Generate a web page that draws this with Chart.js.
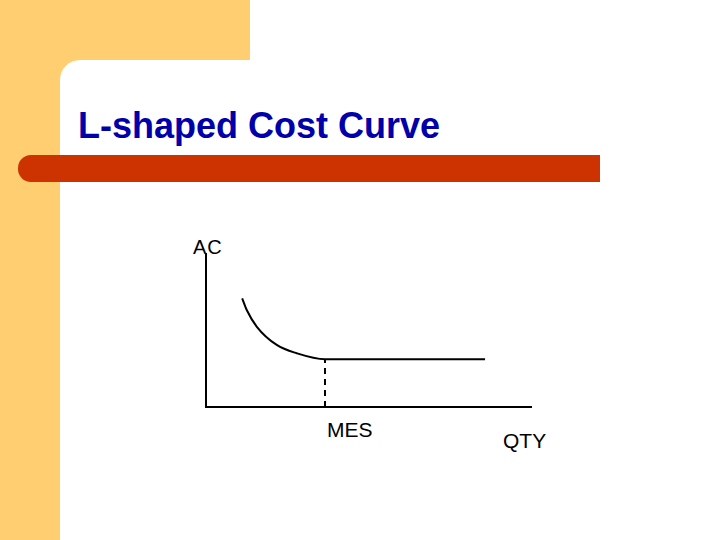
<!DOCTYPE html>
<html>
<head>
<meta charset="utf-8">
<script src="https://cdn.jsdelivr.net/npm/chart.js@4/dist/chart.umd.min.js"></script>
<style>
  html, body { margin: 0; padding: 0; }
  body { width: 720px; height: 540px; position: relative; overflow: hidden; background: #fff;
         font-family: "Liberation Sans", Arial, sans-serif; }
  .bg-strip { position: absolute; left: 0; top: 0; width: 60px; height: 540px; background: #FFCE70; }
  .bg-block { position: absolute; left: 0; top: 0; width: 250px; height: 60px; background: #FFCE70; }
  .corner-bg { position: absolute; left: 60px; top: 60px; width: 22px; height: 22px; background: #FFCE70; }
  .corner { position: absolute; left: 60px; top: 60px; width: 40px; height: 40px; background: #fff; border-top-left-radius: 20px; }
  .bar { position: absolute; left: 18px; top: 155px; width: 582px; height: 27px; background: #CC3300;
         border-top-left-radius: 13px; border-bottom-left-radius: 13px; }
  .title { position: absolute; left: 78px; top: 108px; font-size: 36px; line-height: 36px; font-weight: bold; color: #0000AA; white-space: nowrap; }
  .lbl { position: absolute; color: #000; white-space: nowrap; }
  canvas { position: absolute; left: 0; top: 0; }
</style>
</head>
<body>
<div class="bg-strip"></div>
<div class="bg-block"></div>
<div class="corner-bg"></div>
<div class="corner"></div>
<div class="bar"></div>
<div class="title">L-shaped Cost Curve</div>
<div class="lbl" style="left:193px; top:237px; font-size:20px; line-height:20px; letter-spacing:1px;">AC</div>
<div class="lbl" style="left:327px; top:419px; font-size:21px; line-height:21px;">MES</div>
<div class="lbl" style="left:503px; top:430px; font-size:21px; line-height:21px;">QTY</div>
<div style="position:absolute; left:0; top:0; width:720px; height:540px;">
  <canvas id="chart" width="720" height="540"></canvas>
</div>
<script>
// axis frame (quantity / average cost)
const axisX = [0, 0, 10];
const axisY = [10, 0, 0];

// AC curve: falls then flattens at MES
const curveQty = [1.11, 1.25, 1.56, 2.17, 2.78, 3.65, 8.56];
const curveAC  = [7.06, 6.30, 5.21, 4.03, 3.49, 3.10, 3.10];

// minimum efficient scale marker
const mesQty = 3.65;
const mesAC = 3.10;

const toPoints = (xs, ys) => xs.map((x, i) => ({ x: x, y: ys[i] }));

const ctx = document.getElementById('chart');

const data = {
  datasets: [
    {
      data: toPoints(axisX, axisY),
      borderColor: '#000',
      borderWidth: 2,
      pointRadius: 0,
      tension: 0,
      clip: false
    },
    {
      data: toPoints(curveQty, curveAC),
      borderColor: '#000',
      borderWidth: 2,
      pointRadius: 0,
      cubicInterpolationMode: 'monotone',
      clip: false
    },
    {
      data: [{ x: mesQty, y: 0 }, { x: mesQty, y: mesAC }],
      borderColor: '#000',
      borderWidth: 2,
      borderDash: [6, 5],
      pointRadius: 0,
      clip: false
    }
  ]
};

const config = {
  type: 'line',
  data: data,
  options: {
    responsive: false,
    animation: false,
    layout: { padding: { left: 206, right: 188, top: 253, bottom: 133 } },
    plugins: { legend: { display: false }, tooltip: { enabled: false } },
    scales: {
      x: { type: 'linear', min: 0, max: 10, display: false },
      y: { type: 'linear', min: 0, max: 10, display: false }
    }
  }
};

const costChart = new Chart(ctx, config);
</script>
</body>
</html>
